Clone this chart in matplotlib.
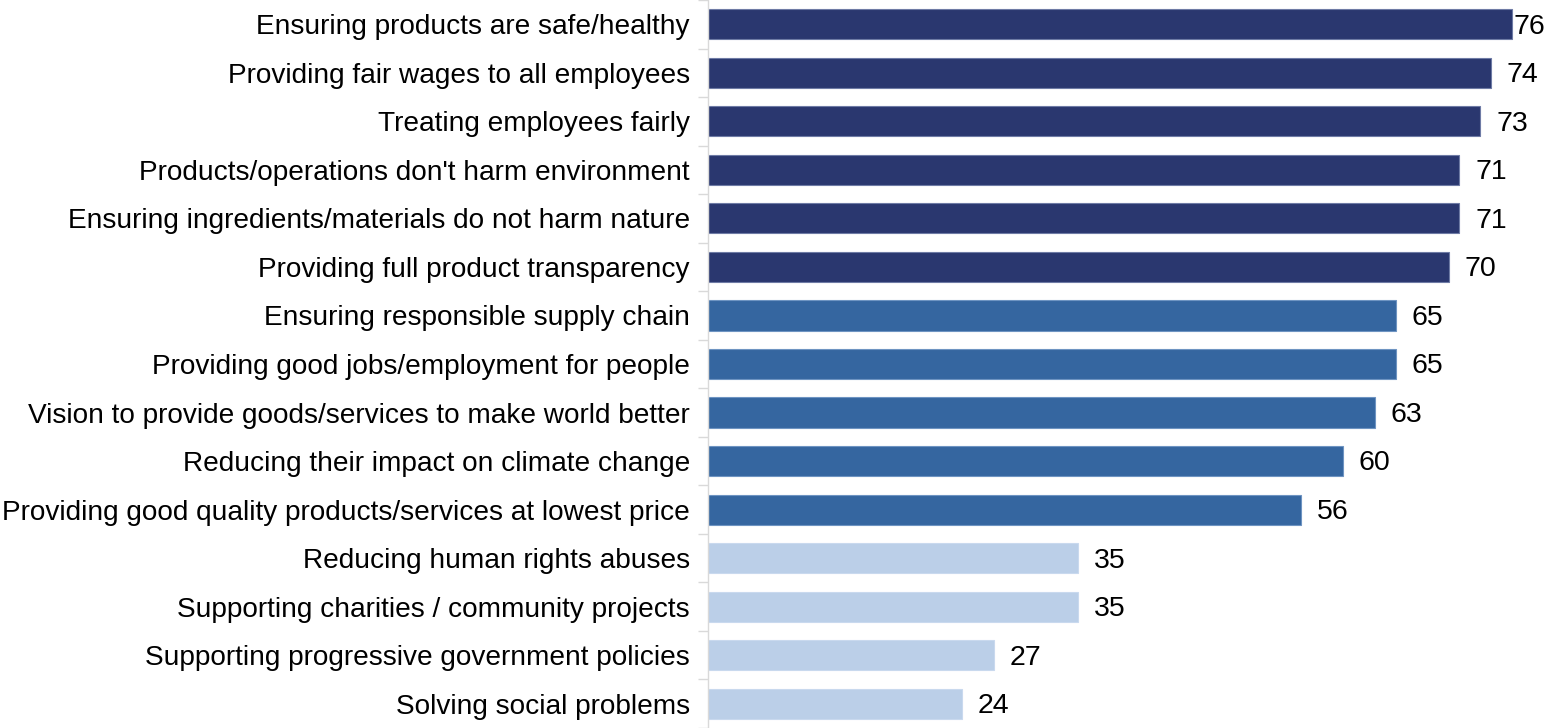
import matplotlib
matplotlib.use("Agg")
import matplotlib.pyplot as plt
from matplotlib.ticker import FixedLocator

categories = [
    "Ensuring products are safe/healthy",
    "Providing fair wages to all employees",
    "Treating employees fairly",
    "Products/operations don't harm environment",
    "Ensuring ingredients/materials do not harm nature",
    "Providing full product transparency",
    "Ensuring responsible supply chain",
    "Providing good jobs/employment for people",
    "Vision to provide goods/services to make world better",
    "Reducing their impact on climate change",
    "Providing good quality products/services at lowest price",
    "Reducing human rights abuses",
    "Supporting charities / community projects",
    "Supporting progressive government policies",
    "Solving social problems",
]
values = [76, 74, 73, 71, 71, 70, 65, 65, 63, 60, 56, 35, 35, 27, 24]
groups = [0, 0, 0, 0, 0, 0, 1, 1, 1, 1, 1, 2, 2, 2, 2]

group_colors = ["#2A376F", "#3566A0", "#BBCFE8"]
edge_colors = ["#6E7BA5", "#6E94C2", "#C9D9EE"]

plt.rcParams['font.family'] = ['Liberation Sans', 'DejaVu Sans']

fig = plt.figure(figsize=(15.46, 7.28), dpi=100)
ax = fig.add_axes([708 / 1546, 0.0, 1 - 708 / 1546, 1.0])

xmax = 79.2
ypos = list(range(len(categories)))
ax.barh(ypos, values, height=0.62,
        color=[group_colors[g] for g in groups],
        edgecolor=[edge_colors[g] for g in groups], linewidth=0.8)

ax.set_xlim(0, xmax)
ax.set_ylim(len(categories) - 0.5, -0.5)

ax.set_yticks(ypos)
ax.set_yticklabels(categories, fontsize=20.2, color="#000000")
ax.yaxis.set_minor_locator(FixedLocator([i + 0.5 for i in range(-1, len(categories))]))
ax.tick_params(axis='y', which='major', length=0, pad=13)
ax.tick_params(axis='y', which='minor', length=7, width=1, color="#D9D9D9")
ax.set_xticks([])

for s in ["top", "right", "bottom"]:
    ax.spines[s].set_visible(False)
ax.spines["left"].set_color("#D9D9D9")
ax.spines["left"].set_linewidth(1)

# value labels
fig.canvas.draw()
renderer = fig.canvas.get_renderer()
px_per_unit = ax.transData.transform((1, 0))[0] - ax.transData.transform((0, 0))[0]
fig_right_px = fig.bbox.width
for y, v in zip(ypos, values):
    t = ax.text(v, y + 0.05, str(v), fontsize=20.5, va="center", ha="left")
    bb = t.get_window_extent(renderer)
    offset = 16 / px_per_unit
    x = v + offset
    if ax.transData.transform((x, 0))[0] + bb.width > fig_right_px:
        x = v + 1 / px_per_unit
    t.set_x(x)

fig.savefig("out.png", dpi=100)
